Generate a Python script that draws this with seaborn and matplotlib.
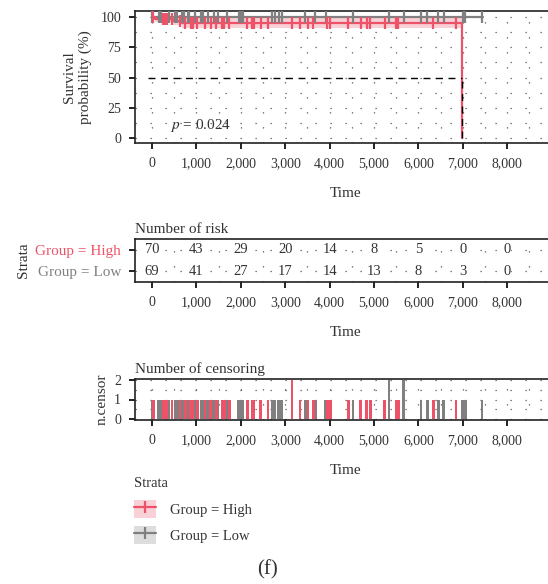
import numpy as np
import pandas as pd
import matplotlib
matplotlib.use("Agg")
import matplotlib.pyplot as plt
from matplotlib.patches import Patch
from matplotlib.lines import Line2D
import seaborn as sns

# ---------------- data ----------------
groups = ["Group = High", "Group = Low"]
colors = {"Group = High": "#EE5268", "Group = Low": "#808080"}
fills = {"Group = High": "#F9D0D6", "Group = Low": "#DDDDDD"}

# KM step curves (time, survival %)
high_times = [0, 60, 480, 670, 6975]
high_surv = [100, 98.6, 96.9, 94.8, 0]
high_lower = [100, 96.0, 93.5, 90.6, 0]
high_upper = [100, 100, 100, 99.5, 0]
low_times = [0, 7450]
low_surv = [100, 100]

# censoring times (and counts)
high_cens_t = [30, 250, 300, 330, 450, 630, 750, 870, 920, 1020, 1190, 1320, 1450,
               1580, 1630, 1740, 2150, 2250, 2300, 2450, 2610, 3150, 3330, 3510,
               3630, 3950, 4020, 4425, 4700, 4835, 4920, 5240, 5500, 5550, 6340, 6850]
high_cens_n = [1] * 21 + [2] + [1] * 14
low_cens_t = [0, 150, 200, 380, 520, 570, 680, 720, 800, 840, 970, 1100, 1150, 1250,
              1390, 1490, 1690, 1950, 2000, 2050, 2700, 2760, 2850, 2920, 3450, 3680,
              3910, 4530, 5340, 5670, 6060, 6200, 6450, 6570, 7000, 7060, 7430]
low_cens_n = [1] * 28 + [2, 2] + [1] * 7

risk_times = [0, 1000, 2000, 3000, 4000, 5000, 6000, 7000, 8000]
risk_high = [70, 43, 29, 20, 14, 8, 5, 0, 0]
risk_low = [69, 41, 27, 17, 14, 13, 8, 3, 0]

p_text = "0.024"
median_time = 6975

# ---------------- style ----------------
sns.set_style("white")
plt.rcParams["font.family"] = ["Liberation Serif", "DejaVu Serif"]
plt.rcParams["mathtext.fontset"] = "stix"
TXT = "#333333"
plt.rcParams["text.color"] = TXT
plt.rcParams["axes.labelcolor"] = TXT
plt.rcParams["xtick.color"] = "#222222"
plt.rcParams["ytick.color"] = "#222222"
plt.rcParams["xtick.labelcolor"] = TXT
plt.rcParams["ytick.labelcolor"] = TXT

W, H = 548, 584
fig = plt.figure(figsize=(W / 100, H / 100), dpi=100)


def ax_at(left, top, right, bottom):
    return fig.add_axes([left / W, 1 - bottom / H, (right - left) / W, (bottom - top) / H])


px0, pxk = 152, 44.4  # pixel of t=0 and pixels per 1000
left_px, right_px = 135, 556
xlim = ((left_px - px0) / pxk * 1000, (right_px - px0) / pxk * 1000)
xticks = risk_times
xticklabels = [f"{t:,}" for t in xticks]
grid_kw = dict(color="#555555", linestyle=(0, (1, 11)), linewidth=0.9)


def style_axes(ax):
    for s in ax.spines.values():
        s.set_color("#222222")
        s.set_linewidth(1.2)
    ax.set_xlim(*xlim)
    ax.set_xticks(xticks)
    ax.set_xticklabels(xticklabels, fontsize=10)
    ax.tick_params(axis="both", direction="out", length=4, width=1.4, pad=6,
                   bottom=True, left=True)
    ax.set_xlabel("Time", fontsize=11, labelpad=12.5)
    for xv in np.arange(0, 9001, 500):
        ax.axvline(xv, zorder=0, **grid_kw)


# ---------------- main KM plot ----------------
ax1 = ax_at(left_px, 11, right_px, 143)
style_axes(ax1)
ax1.set_ylim(-4.1, 105)
ax1.set_yticks([0, 25, 50, 75, 100])
ax1.set_yticklabels(["0", "25", "50", "75", "100"], fontsize=10)
for yv in np.arange(0, 101, 12.5):
    ax1.axhline(yv, zorder=0, **grid_kw)

# ribbon for High
ax1.fill_between(high_times, high_lower, high_upper, step="post", color=fills["Group = High"],
                 linewidth=0, zorder=1)

km = pd.concat([
    pd.DataFrame({"time": high_times, "surv": high_surv, "strata": "Group = High"}),
    pd.DataFrame({"time": low_times, "surv": low_surv, "strata": "Group = Low"}),
])
sns.lineplot(data=km, x="time", y="surv", hue="strata", palette=colors, estimator=None,
             drawstyle="steps-post", linewidth=1.6, legend=False, ax=ax1, zorder=3,
             hue_order=["Group = Low", "Group = High"])

# censor marks
hs = np.array(high_surv)
ht = np.array(high_times)
hvals = [hs[np.searchsorted(ht, t, side="right") - 1] for t in high_cens_t]
ax1.plot(low_cens_t, [100] * len(low_cens_t), linestyle="none", marker="|", markersize=8,
         markeredgewidth=1.6, color=colors["Group = Low"], zorder=4)
ax1.plot(high_cens_t, hvals, linestyle="none", marker="|", markersize=8,
         markeredgewidth=1.6, color=colors["Group = High"], zorder=5)

# median lines
ax1.plot([-100, median_time], [50, 50], color="black", linestyle=(0, (5, 4)), linewidth=1.0, zorder=6)
ax1.plot([median_time, median_time], [0, 50], color="black", linestyle=(0, (5, 4)),
         linewidth=1.0, zorder=6)
ax1.text(400, 10.5, r"$p$ = " + p_text, fontsize=11, va="center", ha="left", color=TXT)
ax1.set_ylabel("Survival\nprobability (%)", fontsize=11, labelpad=6, linespacing=1.25)

# ---------------- risk table ----------------
ax2 = ax_at(left_px, 239, right_px, 282)
style_axes(ax2)
ax2.set_ylim(1.52, -0.52)
ax2.set_yticks([0, 1])
ax2.set_yticklabels(groups, fontsize=11)
for lbl, g in zip(ax2.get_yticklabels(), groups):
    lbl.set_color(colors[g])
for yv in [0, 1]:
    ax2.axhline(yv, zorder=0, **grid_kw)
for t, a, b in zip(risk_times, risk_high, risk_low):
    ax2.text(t, 0, str(a), ha="center", va="center", fontsize=10.5, color=TXT,
             bbox=dict(facecolor="white", edgecolor="none", pad=0.2))
    ax2.text(t, 1, str(b), ha="center", va="center", fontsize=10.5, color=TXT,
             bbox=dict(facecolor="white", edgecolor="none", pad=0.2))
ax2.set_ylabel("Strata", fontsize=11, labelpad=4)
ax2.set_title("Number of risk", loc="left", fontsize=11, pad=4, color=TXT)

# ---------------- censoring plot ----------------
ax3 = ax_at(left_px, 379, right_px, 420)
style_axes(ax3)
ax3.set_ylim(-0.05, 2.05)
ax3.set_yticks([0, 1, 2])
ax3.set_yticklabels(["0", "1", "2"], fontsize=10)
for yv in [0, 0.5, 1, 1.5, 2]:
    ax3.axhline(yv, zorder=0, **grid_kw)
ax3.bar(low_cens_t, low_cens_n, width=60, color=colors["Group = Low"], zorder=2, linewidth=0)
ax3.bar(high_cens_t, high_cens_n, width=60, color=colors["Group = High"], zorder=3, linewidth=0)
ax3.set_ylabel("n.censor", fontsize=11, labelpad=4)
ax3.set_title("Number of censoring", loc="left", fontsize=11, pad=4, color=TXT)

# ---------------- legend ----------------
handles = []
for g in groups:
    p = Patch(facecolor=fills[g], edgecolor="none")
    l = Line2D([], [], color=colors[g], linewidth=1.6, marker="|", markersize=8,
               markeredgewidth=1.6)
    handles.append((p, l))
leg = fig.legend(handles=handles, labels=groups, title="Strata", loc="upper left",
                 bbox_to_anchor=(134 / W, 1 - 477 / H), frameon=False, fontsize=10.5,
                 title_fontsize=10.5, handlelength=1.5, handleheight=1.6, labelspacing=0.5,
                 handletextpad=1.0, alignment="left", borderpad=0, borderaxespad=0)
leg._legend_box.sep = 7
for t in leg.get_texts():
    t.set_color(TXT)
leg.get_title().set_color(TXT)

fig.text(268 / W, 1 - 570 / H, "(f)", fontsize=15, ha="center", va="center", color=TXT)

fig.savefig("out.png", dpi=100)
